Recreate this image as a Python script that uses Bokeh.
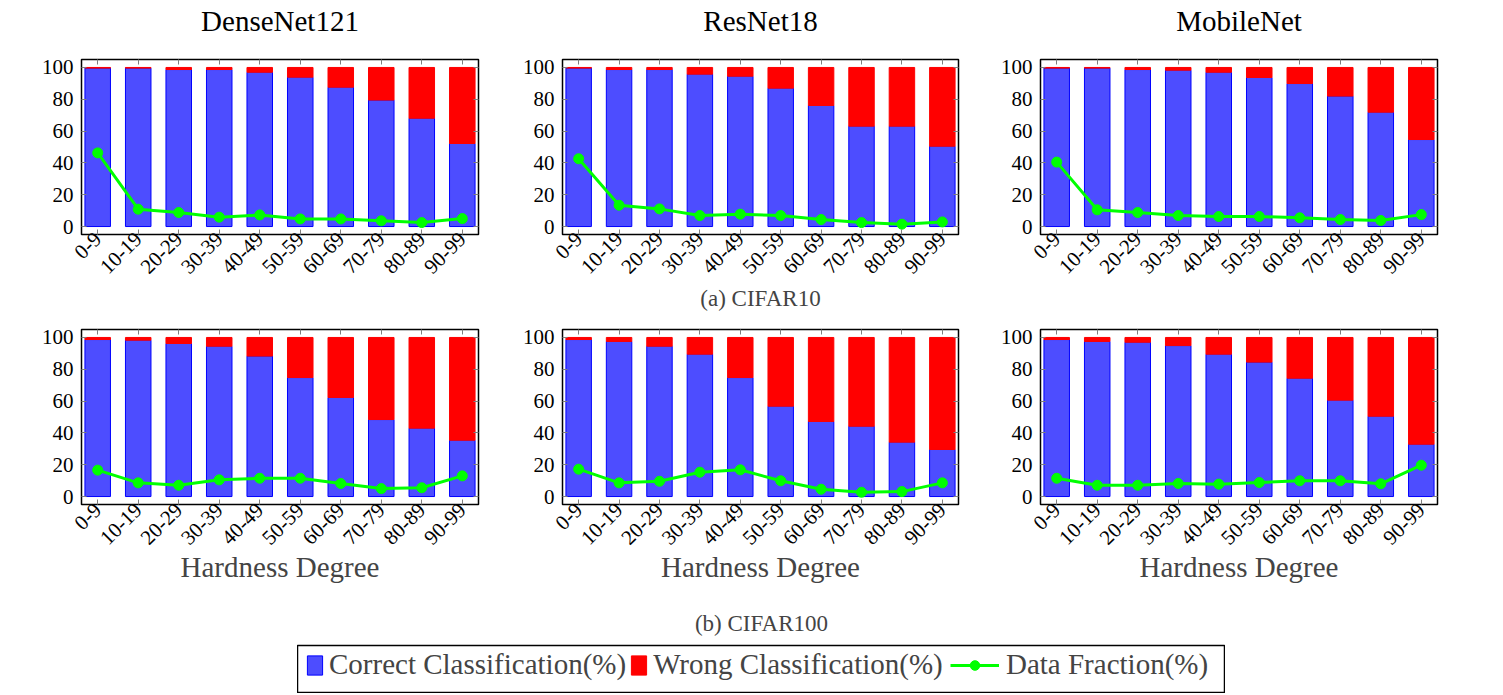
from math import pi
from bokeh.plotting import figure
from bokeh.models import (FactorRange, Range1d, CategoricalAxis, LinearAxis, FixedTicker,
                          Title, Legend, LegendItem, Spacer)
from bokeh.layouts import column, row
from bokeh.embed import file_html
from bokeh.resources import INLINE

# ---------------- data ----------------
bins = ["0-9", "10-19", "20-29", "30-39", "40-49", "50-59", "60-69", "70-79", "80-89", "90-99"]
models = ["DenseNet121", "ResNet18", "MobileNet"]

# CIFAR10
c10_densenet_correct = [99.6, 99.6, 98.7, 98.7, 97.0, 93.9, 87.6, 79.5, 68.1, 52.2]
c10_densenet_wrong = [0.4, 0.4, 1.3, 1.3, 3.0, 6.1, 12.4, 20.5, 31.9, 47.8]
c10_densenet_frac = [46.3, 10.9, 8.8, 5.9, 7.3, 4.8, 4.8, 3.6, 2.5, 5.0]

c10_resnet_correct = [99.6, 98.7, 98.7, 95.8, 94.5, 87.0, 76.1, 63.1, 63.1, 50.5]
c10_resnet_wrong = [0.4, 1.3, 1.3, 4.2, 5.5, 13.0, 23.9, 36.9, 36.9, 49.5]
c10_resnet_frac = [42.6, 13.4, 11.1, 6.9, 7.8, 6.9, 4.4, 2.5, 1.5, 2.9]

c10_mobile_correct = [99.6, 99.6, 98.7, 98.3, 97.0, 93.7, 89.9, 82.0, 71.9, 54.7]
c10_mobile_wrong = [0.4, 0.4, 1.3, 1.7, 3.0, 6.3, 10.1, 18.0, 28.1, 45.3]
c10_mobile_frac = [40.5, 10.5, 8.8, 6.9, 6.3, 6.3, 5.5, 4.4, 3.8, 7.5]

# CIFAR100
c100_densenet_correct = [98.7, 98.3, 96.2, 94.5, 88.3, 74.8, 62.3, 48.4, 43.0, 35.4]
c100_densenet_wrong = [1.3, 1.7, 3.8, 5.5, 11.7, 25.2, 37.7, 51.6, 57.0, 64.6]
c100_densenet_frac = [16.6, 8.6, 7.1, 10.5, 11.5, 11.5, 8.2, 5.0, 5.5, 13.0]

c100_resnet_correct = [98.7, 97.5, 94.5, 89.5, 74.8, 56.8, 47.2, 44.2, 34.2, 29.6]
c100_resnet_wrong = [1.3, 2.5, 5.5, 10.5, 25.2, 43.2, 52.8, 55.8, 65.8, 70.4]
c100_resnet_frac = [17.2, 8.6, 9.6, 15.3, 16.8, 9.9, 4.6, 2.7, 3.1, 8.6]

c100_mobile_correct = [98.7, 97.5, 97.0, 94.9, 89.5, 84.5, 74.4, 60.6, 50.5, 32.9]
c100_mobile_wrong = [1.3, 2.5, 3.0, 5.1, 10.5, 15.5, 25.6, 39.4, 49.5, 67.1]
c100_mobile_frac = [11.5, 7.1, 7.1, 8.2, 7.8, 8.8, 9.9, 9.9, 8.0, 19.7]

y_ticks = [0, 20, 40, 60, 80, 100]
legend_labels = ["Correct Classification(%)", "Wrong Classification(%)", "Data Fraction(%)"]
captions = ["(a) CIFAR10", "(b) CIFAR100"]
x_label = "Hardness Degree"

# ---------------- style ----------------
FONT = "Liberation Serif"
BLUE_FILL = "#4d4dff"
BLUE_LINE = "#0000ff"
RED = "#ff0000"
GREEN = "#00ff00"
TICK_GRAY = "#7f7f7f"
TICK_FS = "21px"


def add_marks(p, correct, wrong, frac):
    rb = p.vbar(x=bins, bottom=0, top=correct, width=0.63,
                fill_color=BLUE_FILL, line_color=BLUE_LINE, line_width=1)
    rr = p.vbar(x=bins, bottom=correct, top=[c + w for c, w in zip(correct, wrong)], width=0.63,
                fill_color=RED, line_color=RED, line_width=1)
    rl = p.line(x=bins, y=frac, line_color=GREEN, line_width=3)
    rs = p.scatter(x=bins, y=frac, size=10, fill_color=GREEN, line_color=GREEN)
    return rb, rr, rl, rs


def make_panel(correct, wrong, frac, width, left, right, height, top, bottom,
               title=None, xlabel=None, caption=None, xlab_standoff=2):
    p = figure(x_range=FactorRange(factors=bins, range_padding=-0.1, range_padding_units="absolute"),
               y_range=Range1d(-5, 105), width=width, height=height,
               min_border_left=left, min_border_right=right,
               min_border_top=top, min_border_bottom=bottom,
               toolbar_location=None, tools="", output_backend="svg")
    p.background_fill_color = "white"
    p.border_fill_color = "white"
    p.outline_line_color = "black"
    p.outline_line_width = 1.5
    p.grid.visible = False

    add_marks(p, correct, wrong, frac)

    # bottom axis
    xa = p.xaxis[0]
    xa.axis_line_color = None
    xa.major_tick_in = 5
    xa.major_tick_out = 0
    xa.major_tick_line_color = TICK_GRAY
    xa.major_label_orientation = pi / 4
    xa.major_label_text_font = FONT
    xa.major_label_text_font_size = TICK_FS
    xa.major_label_text_color = "black"
    xa.major_label_standoff = xlab_standoff
    if xlabel:
        xa.axis_label = xlabel
        xa.axis_label_text_font = FONT
        xa.axis_label_text_font_size = "29px"
        xa.axis_label_text_font_style = "normal"
        xa.axis_label_standoff = -3

    # left axis
    ya = p.yaxis[0]
    ya.ticker = FixedTicker(ticks=y_ticks)
    ya.axis_line_color = None
    ya.major_tick_in = 5
    ya.major_tick_out = 0
    ya.minor_tick_in = 0
    ya.minor_tick_out = 0
    ya.major_tick_line_color = TICK_GRAY
    ya.major_label_text_font = FONT
    ya.major_label_text_font_size = TICK_FS
    ya.major_label_text_color = "black"
    ya.major_label_standoff = 8

    # top axis: ticks only; its axis label carries the model name
    ta = CategoricalAxis(axis_line_color=None, major_tick_in=5, major_tick_out=0,
                         major_tick_line_color=TICK_GRAY, major_label_text_color=None,
                         major_label_text_font_size="1px", major_label_standoff=0)
    if title:
        ta.axis_label = title
        ta.axis_label_text_font = FONT
        ta.axis_label_text_font_size = "29px"
        ta.axis_label_text_font_style = "normal"
        ta.axis_label_text_color = "black"
        ta.axis_label_standoff = 23
    p.add_layout(ta, "above")
    # right axis: ticks only
    ra = LinearAxis(ticker=FixedTicker(ticks=y_ticks), axis_line_color=None,
                    major_tick_in=5, major_tick_out=0, minor_tick_in=0, minor_tick_out=0,
                    major_tick_line_color=TICK_GRAY, major_label_text_color=None,
                    major_label_text_font_size="1px", major_label_standoff=0)
    p.add_layout(ra, "right")

    if caption:
        cap = Title(text=caption, align="center", text_font=FONT, text_font_size="23px",
                    text_font_style="normal", offset=-12, standoff=0)
        p.add_layout(cap, "below")
    return p


# geometry of the three columns: (width, left border, right border)
cols = [(488, 81, 10), (480, 74, 10), (479, 72, 10)]

top_data = [(c10_densenet_correct, c10_densenet_wrong, c10_densenet_frac),
            (c10_resnet_correct, c10_resnet_wrong, c10_resnet_frac),
            (c10_mobile_correct, c10_mobile_wrong, c10_mobile_frac)]
bot_data = [(c100_densenet_correct, c100_densenet_wrong, c100_densenet_frac),
            (c100_resnet_correct, c100_resnet_wrong, c100_resnet_frac),
            (c100_mobile_correct, c100_mobile_wrong, c100_mobile_frac)]

top_row = []
for i, (d, (w, l, r)) in enumerate(zip(top_data, cols)):
    top_row.append(make_panel(*d, width=w, left=l, right=r, height=318, top=59, bottom=84,
                              title=models[i], caption=captions[0] if i == 1 else None,
                              xlab_standoff=1))

bot_row = []
for i, (d, (w, l, r)) in enumerate(zip(bot_data, cols)):
    bot_row.append(make_panel(*d, width=w, left=l, right=r, height=280, top=11, bottom=94,
                              xlabel=x_label))

# legend figure: its frame is the legend box; the proxy marks lie outside its y range
lg = figure(width=928, height=95, x_range=FactorRange(factors=bins), y_range=Range1d(1000, 1001),
            min_border_left=0, min_border_right=0, min_border_top=47, min_border_bottom=0,
            x_axis_location=None, y_axis_location=None, toolbar_location=None, tools="",
            output_backend="svg")
lg.outline_line_color = "black"
lg.outline_line_width = 1.5
lg.grid.visible = False
lg.title.text = captions[1]
lg.title.align = "center"
lg.title.text_font = FONT
lg.title.text_font_size = "23px"
lg.title.text_font_style = "normal"
lg.title.offset = -11
lg.title.standoff = 20

rb, rr, rl, rs = add_marks(lg, c100_densenet_correct, c100_densenet_wrong, c100_densenet_frac)

common = dict(orientation="horizontal", padding=0, margin=0, border_line_color=None,
              background_fill_alpha=0, label_text_font=FONT, label_text_font_size="29px",
              spacing=3, glyph_height=24, label_height=24)
legA = Legend(items=[LegendItem(label=legend_labels[0], renderers=[rb]),
                     LegendItem(label=legend_labels[1], renderers=[rr])],
              location=(8, 12), glyph_width=19, label_standoff=5, **common)
legB = Legend(items=[LegendItem(label=legend_labels[2], renderers=[rl, rs])],
              location=(653, 12), glyph_width=49, label_standoff=7, **common)
lg.add_layout(legA)
lg.add_layout(legB)

layout = column(row(*top_row), row(*bot_row), row(Spacer(width=297, height=95), lg))

open("out.html", "w").write(file_html(layout, INLINE))
